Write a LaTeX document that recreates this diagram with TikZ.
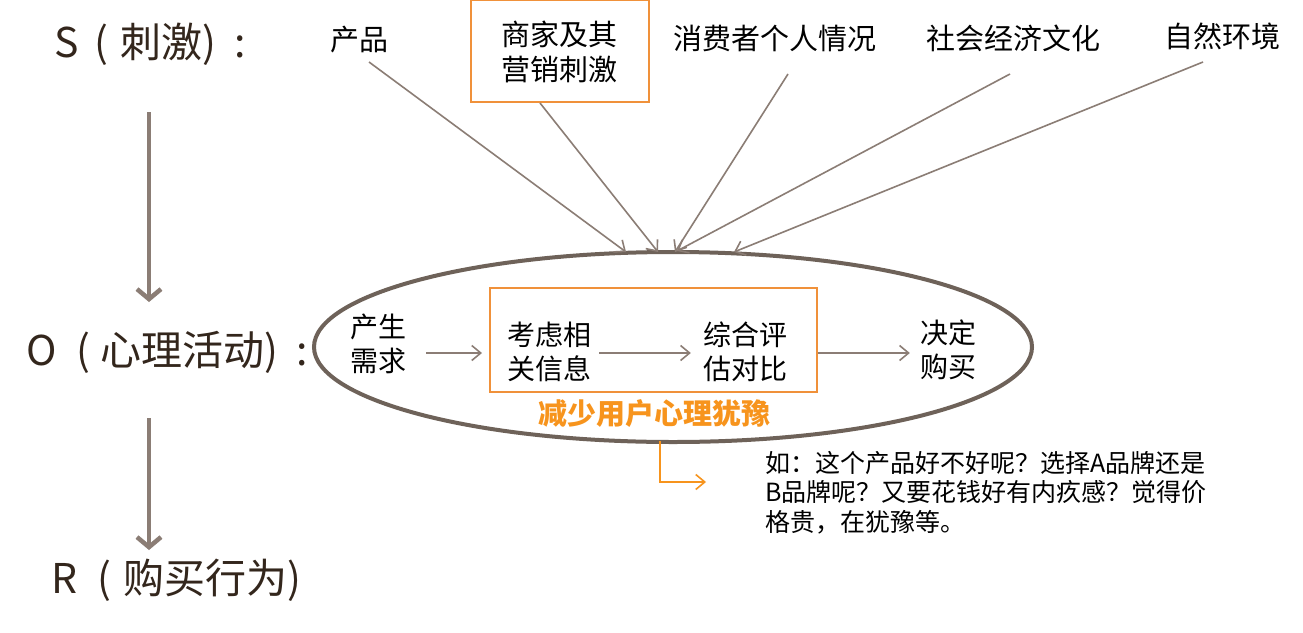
\documentclass[tikz,border=0pt]{standalone}
\usepackage{fontspec}
\setmainfont{Noto Sans CJK SC}
\usetikzlibrary{arrows.meta,shapes.geometric}
\definecolor{labelbrown}{HTML}{33261C}
\definecolor{arrowgrey}{HTML}{8B7D75}
\definecolor{ellbrown}{HTML}{6E6259}
\definecolor{boxorange}{HTML}{F0913A}
\definecolor{textorange}{HTML}{F7941D}
\tikzset{
  biglabel/.style={anchor=west, inner sep=0pt, text=labelbrown, font=\fontsize{41}{46}\selectfont},
  toplabel/.style={inner sep=0pt, align=center, font=\fontsize{29}{35}\selectfont},
  innerlabel/.style={inner sep=0pt, align=center, font=\fontsize{28}{34}\selectfont},
  thinarr/.style={draw=arrowgrey, line width=1.6pt, -{Straight Barb[length=9pt,width=15pt]}},
  bigarr/.style={draw=arrowgrey, line width=4.5pt, -{Straight Barb[length=10pt,width=24pt]}},
  orangebox/.style={draw=boxorange, line width=2pt, inner sep=0pt},
}
\begin{document}
\begin{tikzpicture}[x=1pt,y=-1pt]
\useasboundingbox[fill=white] (0,0) rectangle (1303,632);

% left labels
\node[biglabel] (S) at (54,44) {S\hspace{16pt}(\hspace{12pt}刺激)\hspace{18pt}:};
\node[biglabel] (O) at (26,352) {O\hspace{20pt}(\hspace{10pt}心理活动)\hspace{18pt}:};
\node[biglabel] (R) at (51,580) {R\hspace{20pt}(\hspace{12pt}购买行为)};

\coordinate (sa) at (149,112);
\coordinate (sb) at (149,302);
\coordinate (oa) at (149,418);
\coordinate (ob) at (149,550);
\draw[bigarr] (sa) -- (sb);
\draw[bigarr] (oa) -- (ob);

% top labels
\node[toplabel] (t1) at (359,40) {产品};
\node[orangebox, minimum width=178pt, minimum height=102pt] (t2box) at (560,51) {};
\node[toplabel] (t2) at (559,52) {商家及其\\营销刺激};
\node[toplabel] (t3) at (775,38) {消费者个人情况};
\node[toplabel] (t4) at (1013,38) {社会经济文化};
\node[toplabel] (t5) at (1222,36) {自然环境};

% ellipse
\node[draw=ellbrown, line width=4pt, ellipse, minimum width=718pt, minimum height=190pt, inner sep=0pt] (ell) at (673,347) {};

% arrow start/end coordinates
\coordinate (s1) at (369,62);
\coordinate (s2) at (540,103);
\coordinate (s3) at (788,74);
\coordinate (s4) at (1010,74);
\coordinate (s5) at (1203,62);
\coordinate (e1) at (626,252);
\coordinate (e2) at (658,252);
\coordinate (e3) at (675,252);
\coordinate (e4) at (677,251);
\coordinate (e5) at (734,252);
\draw[thinarr] (s1) -- (e1);
\draw[thinarr] (s2) -- (e2);
\draw[thinarr] (s3) -- (e3);
\draw[thinarr] (s4) -- (e4);
\draw[thinarr] (s5) -- (e5);

% inner process
\node[innerlabel] (n1) at (378,344) {产生\\需求};
\node[orangebox, minimum width=327pt, minimum height=104pt] (box) at (653.5,340) {};
\node[innerlabel] (n2) at (549,352) {考虑相\\关信息};
\node[innerlabel] (n3) at (745,352) {综合评\\估对比};
\node[innerlabel] (n4) at (948,350) {决定\\购买};

\draw[thinarr, shorten <=20pt, shorten >=7pt] (n1.east |- 0,353) -- (box.west |- 0,353);
\draw[thinarr, shorten <=8pt, shorten >=12pt] (n2.east |- 0,353) -- (n3.west |- 0,353);
\draw[thinarr, shorten >=10pt] (box.east |- 0,353) -- (n4.west |- 0,353);

% orange remark
\node[inner sep=0pt, text=textorange, font=\fontsize{29}{34}\selectfont\bfseries] (red) at (654,414) {减少用户心理犹豫};
\coordinate (c1) at (660,441);
\coordinate (c2) at (706,482);
\draw[draw=textorange, line width=1.6pt, -{Straight Barb[length=9pt,width=15pt]}] (c1) |- (c2);

\node[anchor=north west, inner sep=0pt, align=left, font=\fontsize{25}{29.5}\selectfont] (note) at (765,451) {如：这个产品好不好呢？选择A品牌还是\\B品牌呢？又要花钱好有内疚感？觉得价\\格贵，在犹豫等。};
\end{tikzpicture}
\end{document}
